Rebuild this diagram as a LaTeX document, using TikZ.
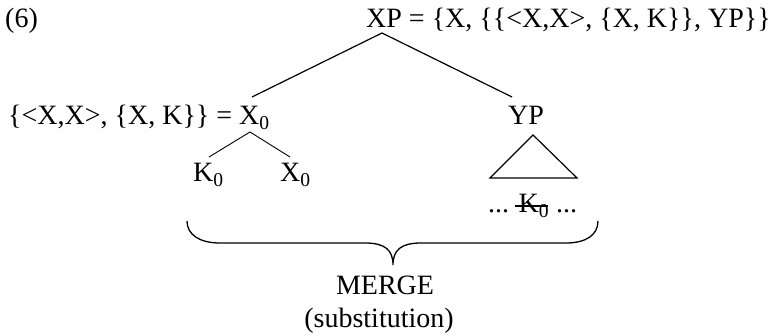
\documentclass[tikz,border=0pt]{standalone}
\usepackage{fontspec}
\setmainfont{Liberation Serif}
\begin{document}
\begin{tikzpicture}[x=1pt,y=-1pt,
  lbl/.style={inner sep=0pt,anchor=base west,font=\fontsize{28}{32}\selectfont},
  lblc/.style={inner sep=0pt,anchor=base,font=\fontsize{28}{32}\selectfont},
  edge/.style={line width=1.2pt},
  thin edge/.style={line width=0.9pt}]
\useasboundingbox (0,0) rectangle (784,336);
\node[lbl] (ex) at (5,28) {(6)};
\node[lbl] (xp) at (366,28) {XP = \{X, \{\{<X,X>, \{X, K\}\}, YP\}\}};
\node[lbl] (x0) at (8,125) {\{<X,X>, \{X, K\}\} = X\textsubscript{0}};
\node[lbl] (yp) at (508,125) {YP};
\node[lbl] (k0) at (193,182) {K\textsubscript{0}};
\node[lbl] (x0b) at (280,182) {X\textsubscript{0}};
\node[lbl] (dots) at (488,213) {... K\textsubscript{0} ...};
\node[lblc] (merge) at (385,295) {MERGE};
\node[lblc] (subst) at (379,328) {(substitution)};
% tree points
\coordinate (xpb) at (382,33);
\coordinate (x0t) at (252,97);
\coordinate (ypt) at (512,97);
\coordinate (x0b1) at (250,132);
\coordinate (k0t) at (209,157);
\coordinate (x0t2) at (290,157);
\coordinate (tria) at (533,135);
\coordinate (tril) at (490,178);
\coordinate (trir) at (577,178);
\draw[edge] (x0t) -- (xpb) -- (ypt);
\draw[thin edge] (k0t) -- (x0b1) -- (x0t2);
\draw[edge] (tria) -- (tril) -- (trir) -- cycle;
% strike through K0
\coordinate (s1) at (515,206);
\coordinate (s2) at (548,206);
\draw[line width=1.1pt] (s1) -- (s2);
% brace
\coordinate (bl) at (187,221);
\coordinate (br) at (598,221);
\coordinate (bt) at (393,265);
\draw[line width=1.3pt] (bl) .. controls (187,235) and (200,243) .. (220,243)
  -- (365,243) .. controls (385,243) and (393,250) .. (bt)
  .. controls (393,250) and (401,243) .. (421,243)
  -- (566,243) .. controls (586,243) and (598,235) .. (br);
\end{tikzpicture}
\end{document}
